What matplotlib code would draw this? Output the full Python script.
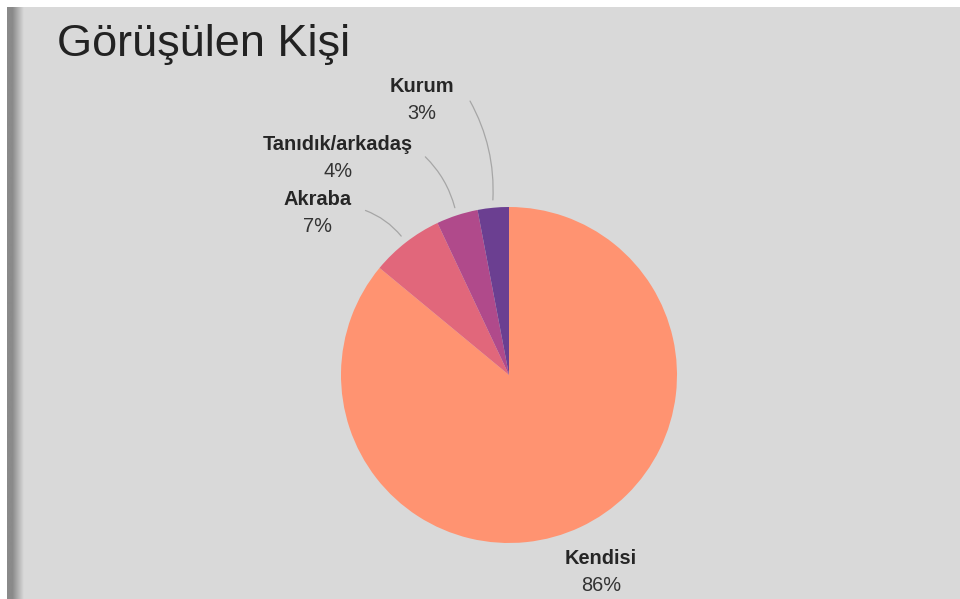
import numpy as np
import matplotlib
matplotlib.use("Agg")
import matplotlib.pyplot as plt

# === Data ===
categories = ["Kendisi", "Akraba", "Tanıdık/arkadaş", "Kurum"]
shares = [86, 7, 4, 3]
colors = ["#ff9371", "#e1677b", "#b04a8b", "#6b3f91"]

title = "Görüşülen Kişi"

plt.rcParams['font.family'] = ['Liberation Sans', 'DejaVu Sans']

W, H = 960, 599
fig = plt.figure(figsize=(W / 100, H / 100), dpi=100, facecolor="white")

# panel background with left shadow
bg = fig.add_axes([0, 0, 1, 1])
bg.set_xlim(0, W)
bg.set_ylim(H, 0)
bg.axis("off")
bg.add_patch(plt.Rectangle((7, 7), W - 7, H - 7, color="#d9d9d9", lw=0, zorder=1))
shade = np.linspace(0, 1, 64)
grad = np.concatenate([np.zeros(30), shade])[None, :]
bg.imshow(grad, extent=(7, 24, H, 7), cmap=matplotlib.colors.LinearSegmentedColormap.from_list(
    "sh", ["#8a8a8a", "#d9d9d9"]), aspect="auto", vmin=0, vmax=1, zorder=2)
bg.set_xlim(0, W)
bg.set_ylim(H, 0)

bg.text(57, 56, title, fontsize=32.5, color="#222222", ha="left", va="baseline", zorder=3)

# === Pie ===
cx, cy, r = 509, 375, 168
ax = fig.add_axes([(cx - r) / W, (H - cy - r) / H, 2 * r / W, 2 * r / H])
ax.pie(shares, colors=colors, startangle=90, counterclock=False,
       wedgeprops=dict(linewidth=0))
ax.set_xlim(-1, 1)
ax.set_ylim(-1, 1)
ax.axis("off")

# label layout (data units of the pie axes)
label_pos = [(0.548, -1.095), (-1.14, 1.045), (-1.02, 1.37), (-0.52, 1.715)]
line_start = [None, (-0.87, 0.985), (-0.51, 1.31), (-0.24, 1.645)]

cum = np.cumsum([0] + shares[:-1])
total = sum(shares)
for i, (cat, v) in enumerate(zip(categories, shares)):
    lx, ly = label_pos[i]
    ax.text(lx, ly, cat, fontsize=14.4, fontweight="bold", color="#262626",
            ha="center", va="center", clip_on=False)
    ax.text(lx, ly - 0.16, f"{v}%", fontsize=14.4, color="#333333",
            ha="center", va="center", clip_on=False)
    if line_start[i] is not None:
        mid = np.deg2rad(90 - (cum[i] + v / 2) / total * 360)
        ex, ey = 1.03 * np.cos(mid), 1.03 * np.sin(mid)
        ax.annotate("", xy=(ex, ey), xytext=line_start[i],
                    arrowprops=dict(arrowstyle="-", color="#a6a6a6", lw=0.9,
                                    connectionstyle="arc3,rad=-0.15"),
                    annotation_clip=False)

fig.savefig("out.png", dpi=100, facecolor="white")
